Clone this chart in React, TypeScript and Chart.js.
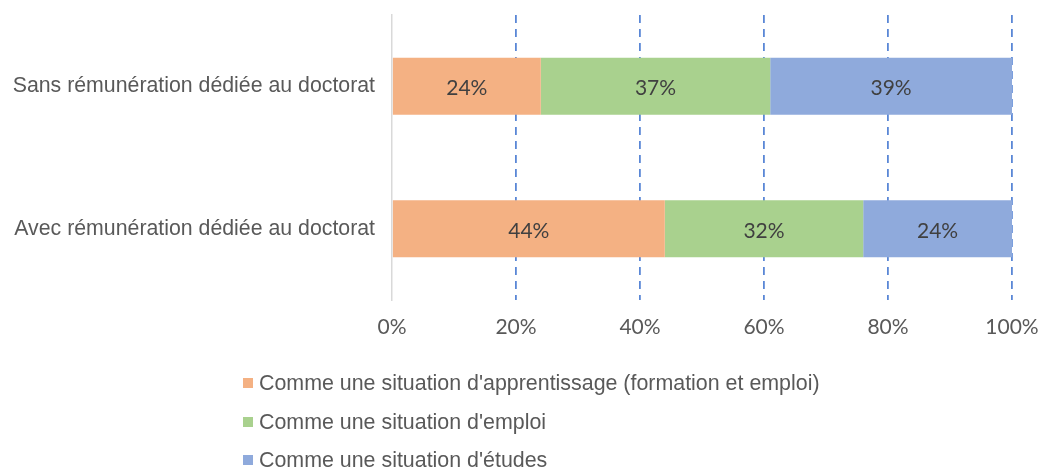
import React, { useEffect, useRef } from "react";
import { Chart, registerables } from "chart.js";

Chart.register(...registerables);

const categories = [
  "Sans rémunération dédiée au doctorat",
  "Avec rémunération dédiée au doctorat",
];
const seriesNames = [
  "Comme une situation d'apprentissage (formation et emploi)",
  "Comme une situation d'emploi",
  "Comme une situation d'études",
];
const apprentissage = [24, 44];
const emploi = [37, 32];
const etudes = [39, 24];
const xTickValues = [0, 20, 40, 60, 80, 100];
const colors = ["#F4B183", "#A9D18E", "#8FAADC"];

const dataLabelPlugin = {
  id: "dataLabels",
  afterDatasetsDraw(chart: any) {
    const ctx = chart.ctx;
    ctx.save();
    ctx.font = "21px Lato";
    ctx.fillStyle = "#404040";
    ctx.textAlign = "center";
    ctx.textBaseline = "middle";
    chart.data.datasets.forEach((ds: any, di: number) => {
      const meta = chart.getDatasetMeta(di);
      meta.data.forEach((el: any, i: number) => {
        const p = el.getProps(["x", "y", "base"], true);
        ctx.fillText(ds.data[i] + "%", (p.x + p.base) / 2, p.y + 2);
      });
    });
    ctx.restore();
  },
};

const legendPlugin = {
  id: "customLegend",
  afterDraw(chart: any) {
    const ctx = chart.ctx;
    ctx.save();
    ctx.font = "21.4px 'Liberation Sans', Arial, sans-serif";
    ctx.textBaseline = "middle";
    ctx.textAlign = "left";
    const rows = [383, 422, 460];
    chart.data.datasets.forEach((ds: any, i: number) => {
      const y = rows[i];
      ctx.fillStyle = ds.backgroundColor;
      ctx.fillRect(243, y - 5, 10, 10);
      ctx.fillStyle = "#595959";
      ctx.fillText(ds.label, 259, y + 1);
    });
    ctx.restore();
  },
};

export default function App() {
  const canvasRef = useRef<HTMLCanvasElement | null>(null);

  useEffect(() => {
    document.body.style.margin = "0";
    document.body.style.overflow = "hidden";
    if (!canvasRef.current) return;
    const chart = new Chart(canvasRef.current, {
      type: "bar",
      data: {
        labels: categories,
        datasets: [
          { label: seriesNames[0], data: apprentissage, backgroundColor: colors[0] },
          { label: seriesNames[1], data: emploi, backgroundColor: colors[1] },
          { label: seriesNames[2], data: etudes, backgroundColor: colors[2] },
        ],
      },
      options: {
        indexAxis: "y",
        animation: false,
        responsive: true,
        maintainAspectRatio: false,
        layout: { padding: { left: 0, right: 28, top: 15, bottom: 0 } },
        datasets: {
          bar: { barPercentage: 0.4, categoryPercentage: 1, borderWidth: 0 },
        },
        plugins: {
          legend: { display: false },
          tooltip: { enabled: false },
        },
        scales: {
          x: {
            type: "linear",
            stacked: true,
            min: 0,
            max: 100,
            afterBuildTicks(scale: any) {
              scale.ticks = xTickValues.map((v) => ({ value: v }));
            },
            afterFit(scale: any) {
              scale.height = 168;
              scale.paddingLeft = 0;
              scale.paddingRight = 0;
            },
            border: { display: false, dash: [8, 6] },
            grid: {
              drawTicks: false,
              color: (c: any) => (c.tick && c.tick.value === 0 ? "rgba(0,0,0,0)" : "#5A87D6"),
              lineWidth: 1.8,
            },
            ticks: {
              padding: 15,
              color: "#595959",
              font: { family: "Lato", size: 21 },
              callback: (v: any) => v + "%",
            },
          },
          y: {
            type: "category",
            stacked: true,
            afterFit(scale: any) {
              scale.width = 392;
              scale.paddingTop = 0;
              scale.paddingBottom = 0;
            },
            border: { display: true, color: "#D9D9D9", width: 1.5 },
            grid: { display: false, drawTicks: false },
            ticks: {
              padding: 17,
              color: "#595959",
              font: { family: "'Liberation Sans', Arial, sans-serif", size: 21.3 },
            },
          },
        },
      },
      plugins: [dataLabelPlugin, legendPlugin],
    } as any);
    return () => chart.destroy();
  }, []);

  return (
    <div style={{ position: "relative", width: 1040, height: 468 }}>
      <canvas ref={canvasRef} />
    </div>
  );
}
